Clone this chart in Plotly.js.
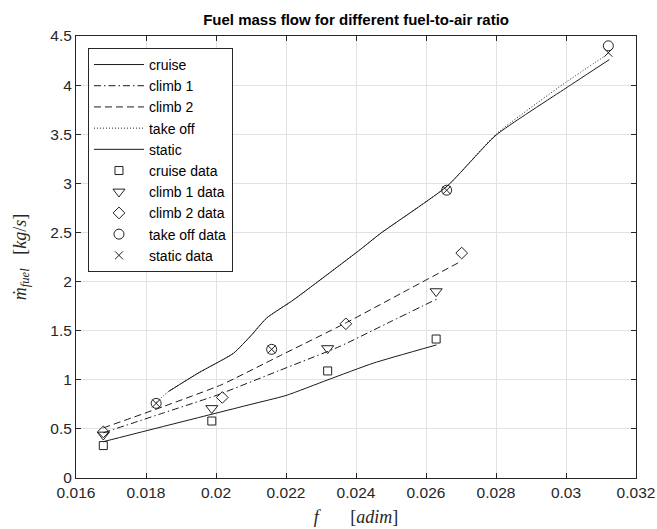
<!DOCTYPE html>
<html>
<head>
<meta charset="utf-8">
<script src="https://cdn.plot.ly/plotly-3.0.1.min.js"></script>
<style>html,body{margin:0;padding:0;background:#fff;}#chart{width:657px;height:529px;}</style>
</head>
<body>
<div id="chart"></div>
<script>
// ---- data ----
var cruiseLineX = [0.01678, 0.0180, 0.0190, 0.0200, 0.0210, 0.0220, 0.0232, 0.0245, 0.0263];
var cruiseLineY = [0.37, 0.48, 0.57, 0.66, 0.75, 0.84, 1.00, 1.17, 1.355];

var climb1LineX = [0.01678, 0.0185, 0.0200, 0.0218, 0.02354, 0.0250, 0.0263];
var climb1LineY = [0.46, 0.663, 0.84, 1.093, 1.34, 1.594, 1.82];

var climb2LineX = [0.01678, 0.0185, 0.02016, 0.0218, 0.02369, 0.0255, 0.02697];
var climb2LineY = [0.51, 0.728, 0.95, 1.24, 1.575, 1.92, 2.20];

var takeoffLineX = [0.01829, 0.01864, 0.0195, 0.0205, 0.0210, 0.02145, 0.0222, 0.0241, 0.0247, 0.0266, 0.0280, 0.0300, 0.03121];
var takeoffLineY = [0.77, 0.88, 1.07, 1.27, 1.45, 1.63, 1.81, 2.32, 2.49, 2.97, 3.50, 4.03, 4.32];

var staticLineX = [0.01864, 0.0195, 0.0205, 0.0210, 0.02145, 0.0222, 0.0241, 0.0247, 0.0266, 0.0280, 0.0300, 0.03124];
var staticLineY = [0.88, 1.07, 1.27, 1.45, 1.63, 1.81, 2.32, 2.49, 2.97, 3.49, 3.97, 4.26];

var cruiseDataX = [0.01678, 0.01988, 0.02319, 0.02629];
var cruiseDataY = [0.33, 0.58, 1.09, 1.415];

var climb1DataX = [0.01678, 0.01988, 0.02319, 0.02629];
var climb1DataY = [0.44, 0.71, 1.32, 1.90];

var climb2DataX = [0.01678, 0.02018, 0.02371, 0.02702];
var climb2DataY = [0.47, 0.82, 1.57, 2.29];

var takeoffDataX = [0.01829, 0.02159, 0.02659, 0.03121];
var takeoffDataY = [0.76, 1.31, 2.93, 4.40];

var staticDataX = [0.01829, 0.02159, 0.02659, 0.03121];
var staticDataY = [0.76, 1.31, 2.93, 4.33];

var xTickVals = [0.016, 0.018, 0.020, 0.022, 0.024, 0.026, 0.028, 0.030, 0.032];
var xTickText = ['0.016', '0.018', '0.02', '0.022', '0.024', '0.026', '0.028', '0.03', '0.032'];
var yTickVals = [0, 0.5, 1, 1.5, 2, 2.5, 3, 3.5, 4, 4.5];
var yTickText = ['0', '0.5', '1', '1.5', '2', '2.5', '3', '3.5', '4', '4.5'];

// ---- styling ----
var ink = '#262626';
var lineCol = '#1a1a1a';
var markCol = '#202020';
var sans = 'Liberation Sans, Arial, sans-serif';
var serif = 'Liberation Serif, Times New Roman, serif';

function lineTrace(name, x, y, dash, g) {
  return {x: x, y: y, type: 'scatter', mode: 'lines', name: name, legendgroup: g,
          line: {color: lineCol, width: 1, dash: dash, shape: 'spline', smoothing: 0.5}};
}
function markTrace(name, x, y, sym, size, g) {
  return {x: x, y: y, type: 'scatter', mode: 'markers', name: name, legendgroup: g,
          marker: {symbol: sym, size: size, color: markCol,
                   line: {color: markCol, width: 1}}};
}

var traces = [
  lineTrace('cruise', cruiseLineX, cruiseLineY, 'solid', 'g1'),
  lineTrace('climb 1', climb1LineX, climb1LineY, '7px,3px,1.5px,3px', 'g2'),
  lineTrace('climb 2', climb2LineX, climb2LineY, '7px,4px', 'g3'),
  lineTrace('take off', takeoffLineX, takeoffLineY, '1px,2px', 'g4'),
  lineTrace('static', staticLineX, staticLineY, 'solid', 'g5'),
  markTrace('cruise data', cruiseDataX, cruiseDataY, 'square-open', 8, 'g6'),
  markTrace('climb 1 data', climb1DataX, climb1DataY, 'triangle-down-open', 10.5, 'g7'),
  markTrace('climb 2 data', climb2DataX, climb2DataY, 'diamond-open', 9, 'g8'),
  markTrace('take off data', takeoffDataX, takeoffDataY, 'circle-open', 10, 'g9'),
  markTrace('static data', staticDataX, staticDataY, 'x-thin-open', 8, 'g10')
];

var layout = {
  width: 657, height: 529,
  margin: {l: 76, r: 21, t: 36, b: 51},
  paper_bgcolor: '#ffffff', plot_bgcolor: '#ffffff',
  font: {family: sans, size: 15, color: ink},
  title: {text: '<b>Fuel mass flow for different fuel-to-air ratio</b>',
          font: {family: sans, size: 15, color: '#000'},
          x: 0.542, xanchor: 'center', y: 0.962, yanchor: 'middle'},
  showlegend: true,
  legend: {x: 0.0214, y: 0.973, xanchor: 'left', yanchor: 'top',
           bgcolor: '#ffffff', bordercolor: ink, borderwidth: 1,
           font: {family: sans, size: 14, color: '#000'},
           tracegroupgap: 0, traceorder: 'normal', itemwidth: 50},
  xaxis: {range: [0.016, 0.032], tickmode: 'array', tickvals: xTickVals, ticktext: xTickText,
          ticks: 'inside', ticklen: 5, tickcolor: ink, showline: true, mirror: 'ticks',
          linecolor: ink, linewidth: 1, showgrid: true, gridcolor: '#e2e2e2', zeroline: false,
          tickfont: {family: sans, size: 15.5, color: ink},
          title: {text: '<i>f</i>\u00a0\u00a0\u00a0\u00a0\u00a0\u00a0\u00a0[<i>adim</i>]',
                  font: {family: serif, size: 18, color: ink}, standoff: 10}},
  yaxis: {range: [0, 4.5], tickmode: 'array', tickvals: yTickVals, ticktext: yTickText,
          ticks: 'inside', ticklen: 5, tickcolor: ink, showline: true, mirror: 'ticks',
          linecolor: ink, linewidth: 1, showgrid: true, gridcolor: '#e2e2e2', zeroline: false,
          tickfont: {family: sans, size: 15.5, color: ink},
          title: {text: '<i>\u1e41</i><sub><i>fuel</i></sub>\u00a0\u00a0\u00a0[<i>kg</i>/<i>s</i>]',
                  font: {family: serif, size: 18, color: ink}, standoff: 19}}
};

Plotly.newPlot('chart', traces, layout, {displayModeBar: false, staticPlot: true});
</script>
</body>
</html>
